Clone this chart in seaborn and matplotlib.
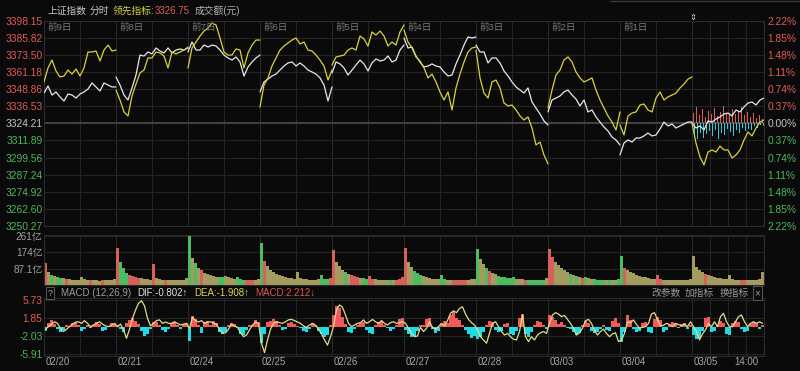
import numpy as np
import pandas as pd
import matplotlib
matplotlib.use('Agg')
import matplotlib.pyplot as plt
import matplotlib.transforms as mtransforms
from matplotlib.lines import Line2D
import seaborn as sns

# ---- data ----
dates = ['02/20', '02/21', '02/24', '02/25', '02/26', '02/27', '02/28', '03/03', '03/04', '03/05']
day_tags = ['前9日', '前8日', '前7日', '前6日', '前5日', '前4日', '前3日', '前2日', '前1日']
pre_close = 3324.21

# 上证指数 (white), 19 samples per trading day
sh_index = [
    [3346.0, 3351.1, 3344.6, 3346.8, 3343.2, 3340.3, 3345.3, 3344.6, 3342.4, 3345.3, 3346.8, 3348.9, 3353.3, 3350.4, 3347.5, 3353.3, 3351.8, 3350.4, 3350.4],
    [3357.6, 3351.8, 3344.6, 3341.0, 3349.7, 3359.0, 3373.4, 3372.7, 3375.6, 3374.2, 3378.5, 3376.3, 3374.9, 3378.5, 3374.9, 3377.0, 3377.8, 3377.0, 3378.5],
    [3375.6, 3382.8, 3377.0, 3377.0, 3380.6, 3379.2, 3380.6, 3379.9, 3377.0, 3373.4, 3371.3, 3369.8, 3372.0, 3368.4, 3358.3, 3364.8, 3368.4, 3371.3, 3373.4],
    [3346.8, 3354.0, 3356.1, 3358.3, 3359.7, 3362.6, 3365.5, 3367.7, 3368.4, 3365.5, 3367.7, 3365.5, 3362.6, 3361.2, 3359.7, 3356.9, 3351.8, 3340.3, 3350.4],
    [3360.5, 3368.4, 3367.0, 3364.1, 3359.0, 3362.6, 3366.2, 3369.8, 3367.0, 3361.9, 3367.7, 3370.6, 3369.1, 3369.8, 3372.7, 3368.4, 3369.8, 3377.0, 3380.6],
    [3385.7, 3378.5, 3379.2, 3372.7, 3368.4, 3364.8, 3365.5, 3367.0, 3365.5, 3364.8, 3361.2, 3358.3, 3359.0, 3367.0, 3373.4, 3380.6, 3386.4, 3385.7, 3386.4],
    [3380.6, 3375.6, 3375.6, 3367.7, 3371.3, 3371.3, 3367.7, 3361.9, 3358.3, 3354.0, 3350.4, 3348.2, 3346.0, 3349.7, 3339.6, 3335.2, 3330.9, 3325.9, 3323.0],
    [3332.4, 3341.0, 3342.4, 3343.9, 3346.8, 3348.2, 3344.6, 3341.7, 3336.7, 3341.0, 3332.4, 3333.8, 3328.8, 3325.1, 3321.5, 3318.7, 3314.3, 3312.2, 3308.6],
    [3301.4, 3310.0, 3312.2, 3310.7, 3313.6, 3313.6, 3315.1, 3317.2, 3315.1, 3315.8, 3320.1, 3325.1, 3322.3, 3323.7, 3320.8, 3322.3, 3323.7, 3325.1, 3325.1],
    [3324.4, 3320.8, 3322.3, 3319.4, 3325.9, 3325.1, 3327.3, 3328.8, 3330.9, 3331.6, 3329.5, 3333.8, 3332.4, 3336.0, 3338.8, 3339.6, 3337.4, 3341.0, 3342.4],
]

# 领先指标 (yellow)
lead_index = [
    [3354.0, 3364.1, 3369.8, 3361.9, 3357.6, 3358.3, 3362.6, 3359.7, 3363.3, 3358.3, 3364.1, 3375.6, 3375.6, 3376.3, 3369.1, 3377.0, 3380.6, 3376.3, 3377.0],
    [3348.2, 3341.0, 3332.4, 3329.5, 3343.9, 3352.5, 3360.5, 3362.6, 3371.3, 3371.3, 3375.6, 3374.9, 3372.7, 3364.1, 3375.6, 3374.2, 3375.6, 3377.0, 3379.2],
    [3364.1, 3378.5, 3382.8, 3387.1, 3390.7, 3392.9, 3396.5, 3395.1, 3385.7, 3375.6, 3373.4, 3373.4, 3377.8, 3377.0, 3364.1, 3374.9, 3380.6, 3384.2, 3384.2],
    [3336.0, 3351.8, 3356.9, 3365.5, 3371.3, 3377.0, 3379.9, 3382.1, 3384.2, 3385.7, 3381.4, 3382.8, 3377.0, 3376.3, 3373.4, 3369.8, 3365.5, 3355.4, 3362.6],
    [3366.2, 3372.0, 3372.7, 3373.4, 3377.0, 3378.5, 3377.0, 3387.1, 3385.0, 3379.9, 3390.0, 3387.8, 3390.7, 3387.1, 3379.9, 3382.8, 3380.6, 3390.0, 3395.1],
    [3391.5, 3382.8, 3378.5, 3372.0, 3369.1, 3364.1, 3356.9, 3359.7, 3354.0, 3346.8, 3341.0, 3346.8, 3333.8, 3349.7, 3359.7, 3368.4, 3375.6, 3378.5, 3379.2],
    [3377.0, 3356.9, 3346.0, 3342.4, 3354.0, 3355.4, 3349.7, 3338.8, 3336.7, 3337.4, 3333.8, 3329.5, 3326.6, 3328.8, 3320.8, 3308.6, 3310.7, 3301.4, 3294.9],
    [3335.2, 3348.2, 3359.0, 3362.6, 3369.8, 3372.0, 3368.4, 3361.2, 3356.9, 3354.0, 3355.4, 3356.9, 3348.2, 3341.0, 3335.2, 3329.5, 3325.1, 3319.4, 3332.4],
    [3323.0, 3315.8, 3329.5, 3331.6, 3332.4, 3337.4, 3338.1, 3333.8, 3332.4, 3342.4, 3346.8, 3341.0, 3343.2, 3344.6, 3346.0, 3349.7, 3352.5, 3356.1, 3357.6],
    [3324.4, 3310.0, 3299.9, 3294.2, 3303.5, 3305.0, 3303.5, 3307.8, 3305.0, 3305.0, 3299.2, 3301.4, 3305.0, 3312.2, 3317.9, 3315.1, 3320.8, 3325.1, 3326.6],
]

# today's buy / sell strength bars around the previous close (index points)
buy_force = [7.2, 11.5, 5.8, 10.1, 4.3, 8.6, 6.5, 10.8, 5.0, 7.9, 12.2, 7.2, 5.8, 10.1, 6.5, 8.6, 11.5, 5.8, 7.9, 4.3, 7.2, 3.6, 5.8, 2.9]
sell_force = [8.6, 11.5, 7.2, 10.8, 7.9, 5.8, 9.4, 5.0, 11.5, 7.2, 8.6, 4.3, 6.5, 9.4, 5.0, 7.2, 3.6, 5.8, 4.3, 5.0, 2.2, 3.6, 1.4, 2.2]

# 成交额 (亿), 24 bars per day
volume = [
    [116, 68, 55, 48, 42, 38, 35, 33, 30, 28, 27, 26, 44, 30, 27, 25, 24, 25, 23, 24, 26, 25, 28, 34],
    [196, 125, 88, 66, 55, 48, 42, 38, 35, 32, 30, 28, 110, 36, 31, 29, 27, 26, 27, 25, 26, 27, 29, 36],
    [261, 145, 115, 92, 78, 66, 58, 52, 48, 45, 42, 40, 50, 40, 36, 33, 45, 30, 28, 27, 26, 27, 28, 34],
    [222, 128, 100, 80, 68, 58, 52, 46, 42, 38, 35, 33, 71, 36, 32, 30, 28, 27, 28, 30, 52, 30, 30, 36],
    [187, 125, 100, 82, 70, 60, 52, 46, 42, 38, 35, 33, 50, 34, 31, 29, 28, 27, 28, 26, 28, 27, 30, 40],
    [196, 122, 95, 75, 62, 52, 46, 40, 37, 34, 32, 30, 53, 32, 29, 28, 27, 26, 27, 25, 27, 28, 30, 34],
    [192, 140, 110, 88, 74, 64, 56, 50, 45, 42, 38, 35, 45, 34, 31, 30, 29, 28, 27, 26, 28, 27, 29, 35],
    [192, 150, 125, 105, 90, 78, 68, 60, 52, 46, 42, 38, 45, 36, 33, 31, 29, 28, 27, 26, 27, 26, 28, 33],
    [156, 88, 78, 70, 62, 55, 48, 44, 40, 37, 34, 32, 53, 30, 28, 26, 25, 24, 25, 24, 25, 26, 27, 32],
    [156, 95, 82, 70, 60, 52, 46, 42, 38, 35, 33, 31, 53, 32, 29, 27, 26, 25, 26, 25, 27, 28, 32, 71],
]

# MACD (12,26,9): histogram and signal line, 24 per day
macd_hist = [
    [-0.8, 0.9, 1.4, 0.6, -0.4, -1.0, -0.7, 0.3, 0.2, 0.9, 1.1, 0.5, -0.8, -0.4, 0.3, -0.3, 0.5, 1.0, 0.6, -0.9, -0.6, 0.2, 0.8, 0.6],
    [0.4, -0.5, -1.2, 0.8, 1.5, 1.8, 1.2, 0.6, -0.8, -2.0, -1.5, -0.4, 1.0, 1.1, 0.4, -0.6, -1.0, -0.4, 0.9, 1.0, 0.3, -0.5, 0.6, 0.8],
    [-3.1, 2.4, 1.6, 0.3, -1.4, 1.0, 1.3, 0.5, 1.2, 0.8, -1.2, -1.5, -1.0, 0.4, 0.9, 0.6, -0.3, -1.6, -1.8, -0.7, 0.3, 0.5, 1.4, 1.0],
    [-3.4, -1.5, 1.0, 1.3, 1.6, 1.2, 0.4, -0.6, -0.4, 0.8, 1.1, 0.6, 0.2, -0.3, -0.9, -1.1, -0.5, 0.9, 0.5, -0.8, -1.6, -2.2, -1.8, 0.5],
    [2.5, 4.5, 4.0, 2.2, 0.6, -1.2, -1.4, -0.5, 0.4, 0.8, 1.1, -0.6, -1.3, -1.5, 0.3, 1.0, 1.2, 0.4, -0.3, -0.8, -0.4, 0.5, 1.6, 1.9],
    [-0.6, -1.5, -2.1, -1.9, -0.8, 0.3, 0.5, 1.6, 1.8, -0.5, -1.4, -0.8, 0.6, 1.2, 0.8, 2.6, 3.2, 1.8, 1.5, 0.5, -0.6, -1.5, -2.4, -2.0],
    [-2.5, -2.2, -1.0, 0.4, 1.2, 1.0, -0.6, -1.2, -0.9, 0.6, 0.9, -1.5, -1.8, -0.8, 1.8, 2.8, -1.5, -2.1, -1.2, 0.5, 1.2, 1.0, 0.3, -0.4],
    [2.5, 2.2, 1.5, 0.6, 1.0, 0.4, -0.3, -0.5, -1.0, -1.8, -1.4, 0.4, 1.2, 0.9, -0.8, -1.3, -1.0, -0.4, 0.3, -0.6, -0.9, 1.2, 2.0, 0.8],
    [-3.2, -1.2, 2.5, 1.5, -0.5, -1.2, -0.8, 0.9, 1.1, -1.0, -1.3, 1.6, 2.2, 1.4, -1.0, -0.6, 0.3, 1.0, 0.8, -0.2, 0.6, 0.9, -0.4, 0.5],
    [-1.8, -2.5, -2.3, -0.8, 1.8, 2.2, -1.0, -0.8, 0.5, 1.2, 0.9, -1.5, -1.8, 0.8, 1.2, 1.0, -0.4, -1.2, -0.9, 0.7, 1.1, 0.9, -0.4, 0.3],
]
macd_line = [
    [-0.5, 0.05, 0.55, 1.1, 0.75, -0.3, -1.0, -0.5, 0.05, 0.6, 1.0, 1.1, 0.75, 1.35, 0.75, 0.05, 0.4, 0.75, 1.1, 0.6, 0.2, 0.05, 0.4, 0.75],
    [0.05, 0.6, -0.65, -2.45, -0.5, 1.85, 3.6, 5.05, 5.6, 4.5, 1.85, 0.2, 0.75, 1.35, 1.5, 0.75, 1.05, 0.75, 0.75, 1.1, 0.75, 0.4, 0.6, 0.75],
    [-0.3, 2.05, 1.35, 1.05, 1.35, 0.75, 1.05, 1.1, 0.75, 0.6, -0.65, -1.4, -1.25, -0.5, 0.6, 0.2, -0.1, -1.25, -2.1, -1.75, -0.65, 0.4, 1.05, 0.75],
    [-3.5, -5.5, -2.8, -0.5, 0.75, 1.1, 0.9, 0.75, 1.1, 1.5, 1.6, 1.35, 1.05, 0.75, 0.2, -0.1, 0.4, 0.75, 0.35, -0.5, -1.5, -2.8, -3.9, -2.1],
    [0.05, 3.6, 4.7, 4.2, 2.55, 0.75, 0.05, 0.4, 0.75, 0.9, 1.5, 0.75, 1.1, 1.6, 1.1, 0.75, 1.35, 0.75, 0.4, 0.9, 1.1, 0.75, 0.9, 1.1],
    [0.75, -0.3, -1.4, -2.1, -1.95, -0.1, -1.0, -0.3, 1.1, -0.1, -0.5, 0.05, 0.75, 0.2, 1.35, 2.9, 3.45, 3.05, 3.95, 4.3, 2.75, 1.6, 0.9, 0.4],
    [-0.65, -2.1, -2.8, -3.5, -1.4, 0.75, 1.1, 0.05, -1.0, -1.75, -1.4, -2.1, -2.65, -2.8, -1.0, 2.55, -2.1, -3.15, -2.1, -2.8, -1.75, -1.25, -1.0, -1.4],
    [0.75, 2.55, 3.05, 2.75, 2.2, 2.45, 1.6, 0.75, -0.3, -1.75, -1.25, -0.3, 1.35, 1.6, 0.75, -0.8, -1.75, -1.0, -0.5, -1.4, -2.1, -1.5, -1.25, -3.15],
    [-2.8, -1.4, 1.05, 0.9, 1.5, 0.5, -0.3, -0.1, 0.05, 0.75, 2.75, 3.05, 1.5, 0.2, 0.35, 0.75, 0.5, 0.05, 0.75, 0.5, 0.2, 0.6, 0.05, 1.1],
    [0.05, -1.0, -2.8, -1.5, -0.65, 0.75, 0.05, 1.1, 0.05, 2.2, 2.9, 1.1, 0.05, 0.05, 1.1, 2.2, 2.55, 1.1, 0.05, 0.75, 1.1, 0.75, 1.1, 0.75],
]

price_ticks = [3398.15, 3385.82, 3373.50, 3361.18, 3348.86, 3336.53, 3324.21,
               3311.89, 3299.56, 3287.24, 3274.92, 3262.60, 3250.27]
pct_ticks = ['2.22%', '1.85%', '1.48%', '1.11%', '0.74%', '0.37%', '0.00%',
             '0.37%', '0.74%', '1.11%', '1.48%', '1.85%', '2.22%']
vol_ticks = [261, 174, 87.1]
vol_labels = ['261亿', '174亿', '87.1亿']
macd_ticks = [5.73, 1.85, -2.03, -5.91]

# ---- style ----
bg = '#0a0a0a'
grid_c = '#242424'
red = '#de5b5b'
green = '#4cb75c'
grey = '#c4c4c4'
sns.set_theme(style='dark', rc={'axes.facecolor': bg, 'figure.facecolor': bg,
                                'axes.edgecolor': '#2c2c2c', 'axes.grid': False})
plt.rcParams['font.family'] = ['Liberation Sans', 'Noto Sans CJK SC', 'DejaVu Sans']

W, H = 800, 371
fig = plt.figure(figsize=(8, 3.71), dpi=100, facecolor=bg)


def px_axes(x0, y0, x1, y1):
    return fig.add_axes([x0 / W, 1 - y1 / H, (x1 - x0) / W, (y1 - y0) / H])


def ftext(x, y, s, **kw):
    kw.setdefault('va', 'center')
    kw.setdefault('fontsize', 7)
    return fig.text(x / W, 1 - y / H, s, **kw)


DAY = 240
n_days = len(dates)
vlines = list(range(0, DAY * n_days + 1, 120)) + [9 * DAY + 60, 9 * DAY + 180]


def frame(ax):
    ax.set_xlim(0, DAY * n_days)
    ax.set_xticks([])
    ax.set_xlabel('')
    ax.set_ylabel('')
    for m in vlines:
        ax.axvline(m, color='#2a2a2a' if m % DAY == 0 else grid_c, lw=0.8, zorder=0)
    for s in ax.spines.values():
        s.set_color('#2c2c2c')
        s.set_linewidth(0.8)


# ---- main price panel ----
ax = px_axes(44, 20.7, 764, 225.9)
frame(ax)
ax.set_ylim(price_ticks[-1], price_ticks[0])
for v in price_ticks:
    ax.axhline(v, color=grid_c, lw=0.8, zorder=0)
ax.axhline(pre_close, color='#464646', lw=1.3, zorder=0)

rows = []
for d in range(n_days):
    ts = np.linspace(0, DAY, len(sh_index[d])) + d * DAY
    for t, a, b in zip(ts, sh_index[d], lead_index[d]):
        rows.append((t, a, d, '上证指数'))
        rows.append((t, b, d, '领先指标'))
lines = pd.DataFrame(rows, columns=['t', 'price', 'day', 'series'])

# today's strength bars
bx = 9 * DAY + 5 + 10 * np.arange(len(buy_force))
ax.bar(bx, buy_force, width=5, bottom=pre_close, color='#e35a5a', linewidth=0, zorder=2)
ax.bar(bx + 3, -np.array(sell_force), width=5.5, bottom=pre_close, color='#22d3de', linewidth=0, zorder=2)

sns.lineplot(data=lines, x='t', y='price', hue='series', units='day', estimator=None,
             hue_order=['上证指数', '领先指标'],
             palette={'上证指数': '#e8e8e8', '领先指标': '#dad23a'},
             lw=0.9, legend=False, ax=ax, zorder=3)
ax.set_xlabel('')
ax.set_ylabel('')

ax.set_yticks(price_ticks)
ax.set_yticklabels([f'{v:.2f}' for v in price_ticks], fontsize=7.4)
ax.tick_params(axis='y', length=0, pad=1)
tick_cols = [red] * 6 + [grey] + [green] * 6
for lab, c in zip(ax.get_yticklabels(), tick_cols):
    lab.set_color(c)

ax2 = ax.twinx()
ax2.set_ylim(ax.get_ylim())
ax2.set_yticks(price_ticks)
ax2.set_yticklabels(pct_ticks, fontsize=7.4)
ax2.tick_params(axis='y', length=0, pad=2.5)
ax2.grid(False)
for s in ax2.spines.values():
    s.set_visible(False)
for lab, c in zip(ax2.get_yticklabels(), tick_cols):
    lab.set_color(c)

for d, tag in enumerate(day_tags):
    ax.text(d * DAY + 13, 0.96, tag, transform=mtransforms.blended_transform_factory(ax.transData, ax.transAxes),
            color='#7a7a7a', fontsize=6.8, va='center', ha='left')

# ---- volume panel ----
axv = px_axes(44, 235, 764, 285)
frame(axv)
axv.set_ylim(0, 266)
for v in vol_ticks:
    axv.axhline(v, color=grid_c, lw=0.8, zorder=0)
vx, vh, vc = [], [], []
for d in range(n_days):
    t = np.linspace(0, DAY, len(sh_index[d]))
    edges = np.arange(0, DAY + 1, 10)
    p = np.interp(edges, t, sh_index[d])
    chg = np.diff(p)
    chg[0] = sh_index[d][0] - (sh_index[d - 1][-1] if d else pre_close)
    for k, v in enumerate(volume[d]):
        vx.append(d * DAY + 5 + 10 * k)
        vh.append(v)
        if abs(chg[k]) < 2.2:
            vc.append('#a49c5e')
        elif chg[k] > 0:
            vc.append('#d8605a')
        else:
            vc.append('#4dbb62')
axv.bar(vx, vh, width=8.5, color=vc, linewidth=0, zorder=2)
axv.set_yticks(vol_ticks)
axv.set_yticklabels(vol_labels, fontsize=7.2, color='#a0a0a0')
axv.tick_params(axis='y', length=0, pad=1)

# ---- MACD panel ----
axm = px_axes(44, 298, 764, 356)
frame(axm)
axm.set_ylim(-6.24, 6.19)
for v in macd_ticks:
    axm.axhline(v, color=grid_c, lw=0.8, zorder=0)
mx = np.concatenate([d * DAY + 5 + 10 * np.arange(len(macd_hist[d])) for d in range(n_days)])
mh = np.concatenate(macd_hist)
axm.bar(mx, mh, width=9.5, color=np.where(mh > 0, '#f05a5a', '#1fdbe6'), linewidth=0, zorder=2)
macd_df = pd.DataFrame({'t': mx, 'dea': np.concatenate(macd_line)})
sns.lineplot(data=macd_df, x='t', y='dea', color='#e2dc86', lw=0.9, ax=axm, zorder=3)
axm.set_xlabel('')
axm.set_ylabel('')
axm.set_yticks(macd_ticks)
axm.set_yticklabels([f'{v:.2f}' for v in macd_ticks], fontsize=7.4)
axm.tick_params(axis='y', length=0, pad=1)
for lab, c in zip(axm.get_yticklabels(), [red, red, green, green]):
    lab.set_color(c)

btrans = mtransforms.blended_transform_factory(axm.transData, axm.transAxes)
for d, lab in enumerate(dates):
    axm.text(d * DAY + 4, -0.105, lab, transform=btrans, color='#a8a8a8', fontsize=7, ha='left', va='center')
axm.text(9 * DAY + 180, -0.105, '14:00', transform=btrans, color='#a8a8a8', fontsize=7, ha='center', va='center')

# ---- header texts ----
ftext(48, 11, '上证指数', color='#c8c8c8')
ftext(90, 11, '分时', color='#c8c8c8')
ftext(113, 11, '领先指标:', color='#d4cf48')
ftext(155, 11, '3326.75', color='#e05a5a')
ftext(195, 11, '成交额(元)', color='#b4b4b4')
ftext(693, 19, '⇕', color='#d8d8d8', fontsize=6, ha='center')

ftext(50, 293, '?', color='#a0a0a0', fontsize=6.5, ha='center',
      bbox=dict(boxstyle='square,pad=0.15', fc=bg, ec='#5a5a5a', lw=0.7))
ftext(61, 293, 'MACD (12,26,9)', color='#9c9c9c')
ftext(137, 293, 'DIF:-0.802↑', color='#e4e4e4')
ftext(194, 293, 'DEA:-1.908↑', color='#d8d45e')
ftext(255, 293, 'MACD:2.212↓', color='#e05555')
ftext(651, 293, '改参数', color='#9a9a9a')
ftext(685, 293, '加指标', color='#9a9a9a')
ftext(720, 293, '换指标', color='#9a9a9a')
ftext(757.5, 293, '×', color='#a0a0a0', ha='center',
      bbox=dict(boxstyle='square,pad=0.2', fc=bg, ec='#5a5a5a', lw=0.7))

fig.add_artist(Line2D([610 / W, 1], [1 - 1 / H, 1 - 1 / H], color='#3a3a3a', lw=1))

fig.savefig('out.png', dpi=100, facecolor=bg)
